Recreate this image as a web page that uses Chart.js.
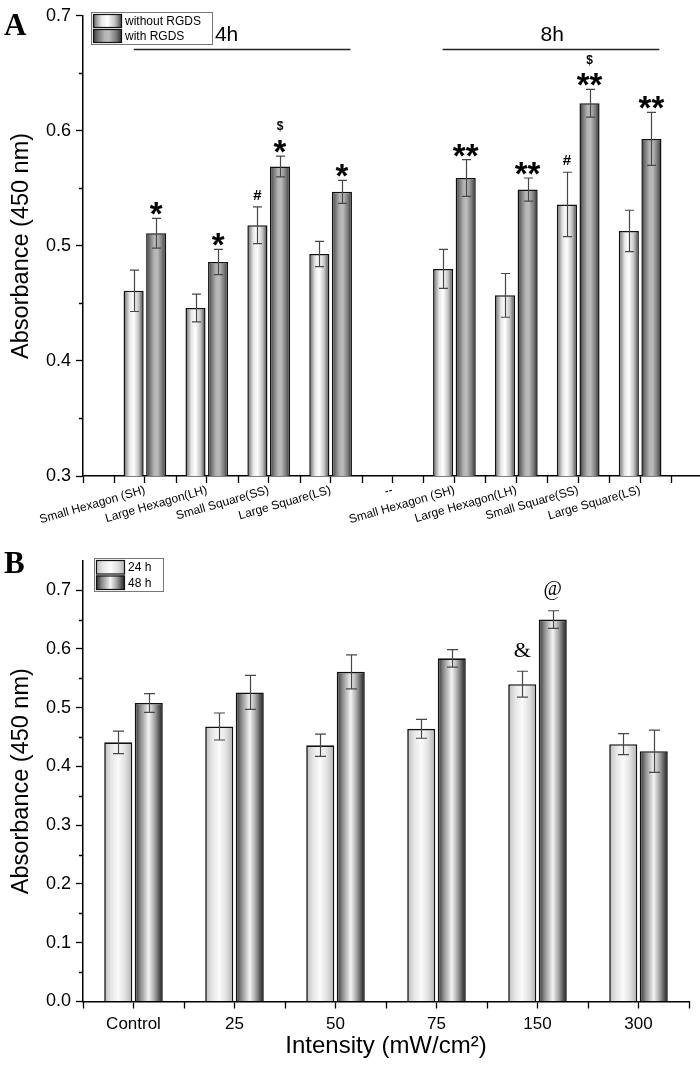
<!DOCTYPE html>
<html>
<head>
<meta charset="utf-8">
<script src="https://cdn.jsdelivr.net/npm/chart.js@4.4.1/dist/chart.umd.min.js"></script>
<style>
  body { margin: 0; background: #fff; width: 700px; height: 1065px; overflow: hidden; position: relative; }
  #graficoA { position: absolute; left: 0; top: 0; }
  #graficoB { position: absolute; left: 0; top: 545px; }
</style>
</head>
<body>
<canvas id="graficoA" width="706" height="545"></canvas>
<canvas id="graficoB" width="700" height="520"></canvas>
<script>
// ---- DADOS PAINEL A (absorbancia 450 nm, 4h e 8h) ----
const rotulosA = ['', 'Small Hexagon (SH)', 'Large Hexagon(LH)', 'Small Square(SS)', 'Large Square(LS)', '--',
                  'Small Hexagon (SH)', 'Large Hexagon(LH)', 'Small Square(SS)', 'Large Square(LS)', ''];
const semRGDS      = [null, 0.461, 0.446, 0.518, 0.493, null, 0.480, 0.457, 0.536, 0.513, null];
const semRGDSerro  = [null, 0.018, 0.012, 0.016, 0.011, null, 0.017, 0.019, 0.028, 0.018, null];
const comRGDS      = [null, 0.511, 0.486, 0.569, 0.547, null, 0.559, 0.549, 0.624, 0.593, null];
const comRGDSerro  = [null, 0.013, 0.011, 0.009, 0.010, null, 0.016, 0.010, 0.012, 0.023, null];
const marcasSemRGDS = ['', '', '', '#', '', '', '', '', '#', '', ''];
const estrelasComRGDS = ['', '*', '*', '*', '*', '', '**', '**', '**', '**', ''];
const cifraoComRGDS = ['', '', '', '$', '', '', '', '', '$', '', ''];
const gruposA = ['4h', '8h'];

// ---- DADOS PAINEL B (intensidade) ----
const rotulosB = ['Control', '25', '50', '75', '150', '300'];
const h24      = [0.441, 0.468, 0.436, 0.464, 0.540, 0.438];
const h24erro  = [0.019, 0.023, 0.019, 0.016, 0.022, 0.018];
const h48      = [0.508, 0.526, 0.561, 0.584, 0.650, 0.426];
const h48erro  = [0.016, 0.029, 0.029, 0.015, 0.015, 0.036];
const marcas24 = ['', '', '', '', '&', ''];
const marcas48 = ['', '', '', '', '@', ''];

const FONTE = '"Liberation Sans", Arial, sans-serif';
const SERIFA = '"Liberation Serif", "Times New Roman", serif';

// gradientes horizontais das barras
const corClara  = [[0, '#555'], [0.12, '#9a9a9a'], [0.3, '#e8e8e8'], [0.5, '#ffffff'], [0.75, '#c4c4c4'], [0.92, '#6a6a6a'], [1, '#333']];
const corEscura = [[0, '#333'], [0.15, '#6e6e6e'], [0.4, '#b4b4b4'], [0.55, '#bcbcbc'], [0.8, '#7a7a7a'], [1, '#2a2a2a']];
const cor24 = [[0, '#bdbdbd'], [0.25, '#e6e6e6'], [0.5, '#fbfbfb'], [0.75, '#e0e0e0'], [1, '#b0b0b0']];
const cor48 = [[0, '#2a2a2a'], [0.2, '#8a8a8a'], [0.5, '#f4f4f4'], [0.72, '#a0a0a0'], [1, '#1a1a1a']];

const gradiente = (ctx, x0, x1, paradas) => {
  const g = ctx.createLinearGradient(x0, 0, x1, 0);
  paradas.forEach(p => g.addColorStop(p[0], p[1]));
  return g;
};

// cor scriptavel: usa a posicao da barra (disponivel a partir do segundo update)
const corBarra = (paradas) => (c) => {
  const el = c.element;
  if (!el || el.x === undefined || !el.width) return paradas[3] ? paradas[3][1] : '#ccc';
  return gradiente(c.chart.ctx, el.x - el.width / 2, el.x + el.width / 2, paradas);
};

// barras de erro
const barrasErro = {
  id: 'barrasErro',
  afterDatasetsDraw(chart, args, opts) {
    const ctx = chart.ctx, y = chart.scales.y;
    ctx.save();
    ctx.strokeStyle = '#474747';
    ctx.lineWidth = 1.2;
    chart.data.datasets.forEach((ds, i) => {
      chart.getDatasetMeta(i).data.forEach((bar, j) => {
        const v = ds.data[j], e = ds.erros[j];
        if (v == null || e == null) return;
        const x = Math.round(bar.x) + 0.5;
        const yt = y.getPixelForValue(v + e), yb = y.getPixelForValue(v - e);
        ctx.beginPath();
        ctx.moveTo(x, yt); ctx.lineTo(x, yb);
        ctx.moveTo(x - opts.capa, yt); ctx.lineTo(x + opts.capa, yt);
        ctx.moveTo(x - opts.capa, yb); ctx.lineTo(x + opts.capa, yb);
        ctx.stroke();
      });
    });
    ctx.restore();
  }
};

// simbolos de significancia acima das barras de erro
const estilosMarca = {
  '*': { font: 'bold 33px ' + FONTE, base: 'alphabetic', dy: 7 },
  '#': { font: 'bold 15px ' + FONTE, base: 'middle', dy: -11 },
  '$': { font: 'bold 12px ' + FONTE, base: 'middle', dy: -29 },
  '&': { font: '22px ' + SERIFA, base: 'middle', dy: -20 },
  '@': { font: '20px ' + SERIFA, base: 'middle', dy: -21 }
};
const marcasTexto = {
  id: 'marcasTexto',
  afterDatasetsDraw(chart) {
    const ctx = chart.ctx, y = chart.scales.y;
    ctx.save();
    ctx.fillStyle = '#000';
    ctx.textAlign = 'center';
    chart.data.datasets.forEach((ds, i) => {
      const meta = chart.getDatasetMeta(i);
      [ds.marcas, ds.marcasSup].forEach(lista => {
        if (!lista) return;
        lista.forEach((txt, j) => {
          if (!txt) return;
          const est = estilosMarca[txt[0]];
          const yt = y.getPixelForValue(ds.data[j] + ds.erros[j]);
          ctx.font = est.font;
          ctx.textBaseline = est.base;
          ctx.fillText(txt, meta.data[j].x, yt + est.dy);
        });
      });
    });
    ctx.restore();
  }
};

// ticks menores dos eixos
const ticksMenores = {
  id: 'ticksMenores',
  afterDraw(chart, args, opts) {
    const ctx = chart.ctx, x = chart.scales.x, y = chart.scales.y;
    const a = chart.chartArea;
    ctx.save();
    ctx.strokeStyle = '#000';
    ctx.lineWidth = 1.3;
    ctx.beginPath();
    for (let v = y.min + 0.05; v < y.max - 0.001; v += 0.1) {
      const py = Math.round(y.getPixelForValue(v)) + 0.5;
      ctx.moveTo(a.left - 4, py); ctx.lineTo(a.left, py);
    }
    const n = chart.data.labels.length;
    for (let i = 0; i < n; i++) {
      opts.desloc.forEach(d => {
        const px = Math.round(x.getPixelForValue(i + d)) + 0.5;
        if (px < a.left - 1 || px > a.right + 1) return;
        ctx.moveTo(px, a.bottom); ctx.lineTo(px, a.bottom + opts.comp);
      });
    }
    ctx.stroke();
    ctx.restore();
  }
};

// legenda em caixa dentro do grafico
const legendaCaixa = {
  id: 'legendaCaixa',
  afterDraw(chart, args, o) {
    const ctx = chart.ctx;
    ctx.save();
    ctx.strokeStyle = '#777';
    ctx.lineWidth = 1;
    ctx.strokeRect(o.x + 0.5, o.y + 0.5, o.w, o.h);
    ctx.font = o.fonte + 'px ' + FONTE;
    ctx.textBaseline = 'middle';
    ctx.textAlign = 'left';
    chart.data.datasets.forEach((ds, i) => {
      const sy = o.y + 2 + i * o.linha;
      ctx.fillStyle = gradiente(ctx, o.x + 2, o.x + 2 + o.amostra, ds.paradas);
      ctx.fillRect(o.x + 2, sy, o.amostra, o.linha - 1);
      ctx.strokeStyle = '#111';
      ctx.lineWidth = 1.2;
      ctx.strokeRect(o.x + 2.5, sy + 0.5, o.amostra - 1, o.linha - 2);
      ctx.fillStyle = '#000';
      ctx.fillText(ds.label, o.x + o.amostra + 5, sy + o.linha / 2);
    });
    ctx.restore();
  }
};

// letra do painel e faixas 4h / 8h
const decoracao = {
  id: 'decoracao',
  afterDraw(chart, args, o) {
    const ctx = chart.ctx;
    ctx.save();
    ctx.fillStyle = '#000';
    ctx.font = 'bold 31px ' + SERIFA;
    ctx.textBaseline = 'alphabetic';
    ctx.fillText(o.letra, 4, o.letraY);
    if (o.grupos) {
      const x = chart.scales.x;
      ctx.strokeStyle = '#222';
      ctx.lineWidth = 1.3;
      ctx.font = '21px ' + FONTE;
      ctx.textAlign = 'center';
      ctx.textBaseline = 'middle';
      o.grupos.forEach((g, k) => {
        const x0 = x.getPixelForValue(o.inicio[k]), x1 = x.getPixelForValue(o.fim[k]);
        ctx.beginPath();
        ctx.moveTo(x0, 49.5); ctx.lineTo(x1, 49.5);
        ctx.stroke();
        ctx.fillText(g, x.getPixelForValue(o.texto[k]), 35);
      });
    }
    ctx.restore();
  }
};

const eixoY = (min, max, larg) => ({
  min: min, max: max,
  border: { color: '#000', width: 1.5 },
  grid: { drawOnChartArea: false, tickLength: 7, tickColor: '#000', tickWidth: 1.3 },
  ticks: { stepSize: 0.1, includeBounds: false, padding: 5, color: '#000', font: { family: FONTE, size: 18 },
           callback: v => v.toFixed(1) },
  title: { display: true, text: 'Absorbance (450 nm)', color: '#000', font: { family: FONTE, size: 23.5 }, padding: { top: 7 } },
  afterFit: s => { s.width = larg; }
});

// ---- GRAFICO A ----
const graficoA = new Chart(document.getElementById('graficoA'), {
  type: 'bar',
  data: {
    labels: rotulosA,
    datasets: [
      { label: 'without RGDS', data: semRGDS, erros: semRGDSerro, marcas: marcasSemRGDS, paradas: corClara,
        backgroundColor: corBarra(corClara), borderColor: '#111', borderWidth: 1.5,
        categoryPercentage: 0.73, barPercentage: 0.89 },
      { label: 'with RGDS', data: comRGDS, erros: comRGDSerro, marcas: estrelasComRGDS, marcasSup: cifraoComRGDS, paradas: corEscura,
        backgroundColor: corBarra(corEscura), borderColor: '#111', borderWidth: 1.5,
        categoryPercentage: 0.73, barPercentage: 0.89 }
    ]
  },
  options: {
    responsive: false,
    animation: false,
    events: [],
    layout: { padding: { left: 0, right: 1, top: 12, bottom: 0 } },
    plugins: {
      legend: { display: false },
      tooltip: { enabled: false },
      barrasErro: { capa: 4.5 },
      ticksMenores: { desloc: [0.5], comp: 7 },
      legendaCaixa: { x: 91, y: 12, w: 121, h: 32, linha: 15, amostra: 29, fonte: 12 },
      decoracao: { letra: 'A', letraY: 35, grupos: gruposA, inicio: [0.82, 5.81], fim: [4.32, 9.31], texto: [2.32, 7.58] }
    },
    scales: {
      x: {
        offset: false,
        border: { color: '#000', width: 1.5 },
        grid: { offset: false, drawOnChartArea: false, tickLength: 7, tickColor: '#000', tickWidth: 1.3 },
        ticks: { autoSkip: false, minRotation: 16, maxRotation: 16, padding: 0, color: '#000', font: { family: FONTE, size: 12 } },
        afterFit: s => { s.height = 69; }
      },
      y: eixoY(0.3, 0.7, 83)
    }
  },
  plugins: [barrasErro, marcasTexto, ticksMenores, legendaCaixa, decoracao]
});
graficoA.update();

// ---- GRAFICO B ----
const graficoB = new Chart(document.getElementById('graficoB'), {
  type: 'bar',
  data: {
    labels: rotulosB,
    datasets: [
      { label: '24 h', data: h24, erros: h24erro, marcas: marcas24, paradas: cor24,
        backgroundColor: corBarra(cor24), borderColor: '#111', borderWidth: 1.6,
        categoryPercentage: 0.604, barPercentage: 0.92 },
      { label: '48 h', data: h48, erros: h48erro, marcas: marcas48, paradas: cor48,
        backgroundColor: corBarra(cor48), borderColor: '#111', borderWidth: 1.6,
        categoryPercentage: 0.604, barPercentage: 0.92 }
    ]
  },
  options: {
    responsive: false,
    animation: false,
    events: [],
    layout: { padding: { left: 0, right: 11, top: 10, bottom: 0 } },
    plugins: {
      legend: { display: false },
      tooltip: { enabled: false },
      barrasErro: { capa: 5.5 },
      ticksMenores: { desloc: [-0.5, 0.5], comp: 7 },
      legendaCaixa: { x: 94, y: 13, w: 69, h: 33, linha: 15.5, amostra: 29, fonte: 12 },
      decoracao: { letra: 'B', letraY: 28 }
    },
    scales: {
      x: {
        border: { color: '#000', width: 1.5 },
        grid: { offset: false, drawOnChartArea: false, tickLength: 7, tickColor: '#000', tickWidth: 1.3 },
        ticks: { padding: 6, color: '#000', font: { family: FONTE, size: 17 } },
        title: { display: true, text: 'Intensity (mW/cm²)', color: '#000', font: { family: FONTE, size: 24 }, padding: { bottom: 4 } },
        afterFit: s => { s.height = 63.5; }
      },
      y: eixoY(0, 0.75, 83)
    }
  },
  plugins: [barrasErro, marcasTexto, ticksMenores, legendaCaixa, decoracao]
});
graficoB.update();
</script>
</body>
</html>
